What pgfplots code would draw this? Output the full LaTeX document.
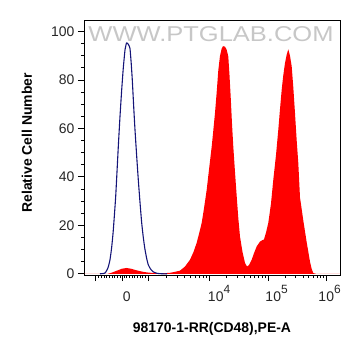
\documentclass[border=0pt]{standalone}
\usepackage{pgfplots}
\pgfplotsset{compat=1.18}
\usepackage{fontspec}
\setmainfont{Liberation Sans}
\definecolor{navyline}{RGB}{20,20,120}
\definecolor{pered}{RGB}{255,0,0}
\newcommand{\pw}[2]{\makebox[0pt][l]{\hspace{#1}10\raisebox{8bp}{\fontsize{12}{12}\selectfont #2}}}
\begin{document}
\begin{tikzpicture}
\useasboundingbox (-84bp,-81bp) rectangle (277bp,275bp);
\begin{axis}[
  scale only axis,
  width=256bp, height=255bp,
  xmin=84, xmax=340, ymin=-0.5, ymax=104.8,
  axis line style={black, line width=1pt},
  tick align=outside,
  xtick pos=bottom, ytick pos=left,
  major tick length=6bp, minor tick length=3bp,
  every tick/.style={black, line width=0.9pt},
  xtick={95,122,148.3,209,268,326.5},
  xticklabels={{},{\makebox[0pt][l]{\hspace{1bp}0}},{},{\pw{-1bp}{4}},{\pw{-2.5bp}{5}},{\pw{-8bp}{6}}},
  minor xtick={98.7,101.3,104,106.7,109.3,112,114.7,117.3,120,124,126.7,129.3,132,134.7,137.3,140,142.7,145.3,
    166.6,177.3,184.8,190.7,195.5,199.6,203.1,206.2,
    226.8,237.1,244.5,250.2,254.9,258.9,262.3,265.3,
    285.6,295.9,303.2,308.9,313.5,317.4,320.8,323.8},
  ytick={0,20,40,60,80,100},
  minor ytick={5,10,15,25,30,35,45,50,55,65,70,75,85,90,95},
  /pgf/number format/assume math mode=true,
  yticklabel style={font=\fontsize{14}{14}\selectfont, text=black!85},
  xticklabel style={font=\fontsize{14}{14}\selectfont, text=black!85, anchor=base, yshift=-20bp},
  every axis y label/.style={at={(axis description cs:-0.2227,0.518)}, rotate=90, anchor=center},
  every axis x label/.style={at={(axis description cs:0.5,-0.2118)}, anchor=center},
  ylabel={\bfseries\fontsize{14}{16}\selectfont Relative Cell Number},
  xlabel={\bfseries\fontsize{14}{16}\selectfont 98170-1-RR(CD48),PE-A},
]
\node[text=black!22, anchor=center] at (axis description cs:0.496,0.945) {\resizebox{245bp}{15bp}{WWW.PTGLAB.COM}};
\addplot[fill=pered, draw=none] table {
x y
84 0
108 0
112 0.5
117 1.3
122 2.1
126.5 2.4
131 2.1
136 1.5
142 0.9
148 0.5
155 0.3
162 0.2
166 0.3
170 0.4
175 0.8
180 1.3
185 3
190 5.8
193.5 9
196.7 12.8
199 16.5
201.7 21
204 27
206.7 34.7
209 43
211.7 52.5
213.5 60
215 66.4
216.7 75
218.3 84
220 90
221.7 93
223 94
225 93.8
226.7 92.5
228.3 89.7
229.5 82
230.7 73
232 62
233.3 52.5
235 42
236.7 32
238.3 23
240 15.4
242.5 9
245 4.5
247 3
249 3.6
251.7 5.8
254 8.5
256.7 11.3
260 13.3
262 13.8
264 14.2
266 17
268.3 21
271 29
273.3 38.8
276 49
278.3 59.4
280 68
281.7 76
283.3 82
285 87
286.7 90.5
288.3 92.7
290 90
291.7 85.6
293.3 77
295 66.3
296.7 55
298.3 45.7
300 31.5
303.3 22
306.7 13
310 5
311.7 2
313.3 0.3
316 0
340 0
} \closedcycle;
\addplot[navyline, line width=1.1pt, smooth, tension=0.3] table {
x y
100 0
105 0.3
108 2.5
110 5.8
111.7 11
113.3 18
115.7 32
118.3 52.5
120 65
121.7 76
123.3 85
125 92.4
126.5 95.3
127.5 95.2
128.7 94.5
130 93
131.2 87
132.3 80
133.7 69
135 59.4
136.7 48.5
138.3 38.8
140 29.5
141.7 21
143.3 15
145 10
146.7 6.3
148.3 3.7
150.5 2
153.3 0.8
157 0.2
162 0
167 0
};
\end{axis}
\end{tikzpicture}
\end{document}
